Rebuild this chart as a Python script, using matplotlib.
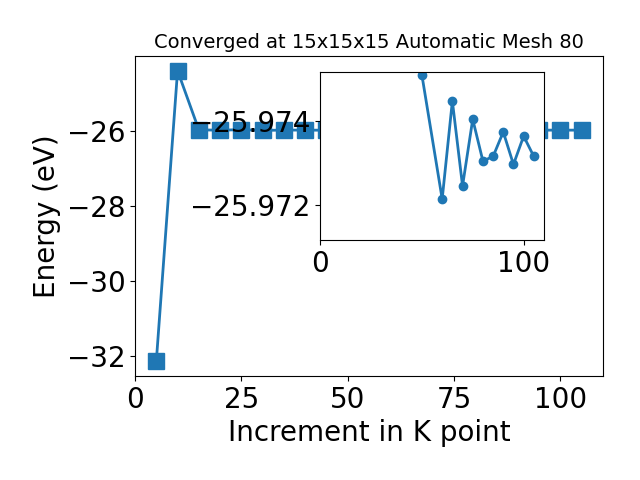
import matplotlib
matplotlib.use('Agg')
import matplotlib.pyplot as plt

plt.rcParams['font.size'] = 20
plt.rcParams['lines.linewidth'] = 2

# k-point increment and total energy (eV)
kpoints = [5, 10, 15, 20, 25, 30, 35, 40, 45, 50, 60, 65, 70, 75, 80, 85, 90, 95, 100, 105]
energy = [-32.13, -24.39, -25.965, -25.975, -25.96, -25.98, -25.972, -25.972, -25.9765,
          -25.9751, -25.97215, -25.97447, -25.97246, -25.97404, -25.97305, -25.97316,
          -25.97374, -25.97297, -25.97364, -25.97316]

# converged tail shown in the inset
kpoints_tail = kpoints[9:]
energy_tail = energy[9:]

fig = plt.figure(figsize=(6.4, 4.8), dpi=100)
ax = fig.add_axes([0.211, 0.217, 0.731, 0.666])
ax.plot(kpoints, energy, marker='s', markersize=11, color='#1f77b4')
ax.set_xlabel('Increment in K point')
ax.set_ylabel('Energy (eV)')
ax.set_title('Converged at 15x15x15 Automatic Mesh 80', fontsize=14)

# zoomed inset
axin = fig.add_axes([0.5, 0.5, 0.35, 0.35])
axin.plot(kpoints_tail, energy_tail, marker='o', markersize=6, color='#1f77b4')
axin.set_xlim(0, 110)
axin.set_ylim(-25.97118, -25.97516)
axin.set_xticks([0, 100])
axin.set_yticks([-25.974, -25.972])
axin.ticklabel_format(axis='y', useOffset=False)

fig.savefig('out.png', dpi=100)
